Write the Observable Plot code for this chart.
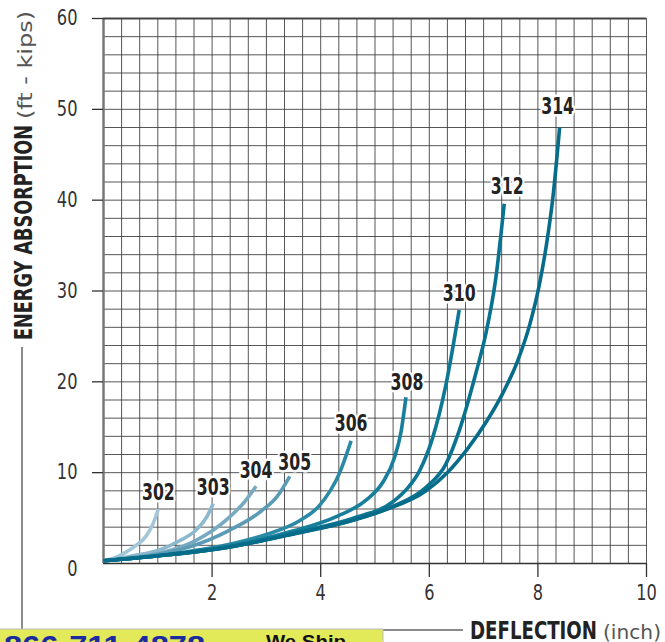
<!DOCTYPE html>
<html>
<head>
<meta charset="utf-8">
<script src="https://cdn.jsdelivr.net/npm/d3@7"></script>
<script src="https://cdn.jsdelivr.net/npm/@observablehq/plot@0.6"></script>
<style>
  html, body { margin: 0; padding: 0; background: white; overflow: hidden; }
  #chart { width: 665px; height: 642px; position: relative; }
</style>
</head>
<body>
<div id="chart"></div>
<script>
// Curve names (model numbers)
const seriesNames = ["302", "303", "304", "305", "306", "308", "310", "312", "314"];
const seriesColors = ["#a3c7d8", "#8cb9cd", "#77aac1", "#5b9bb5", "#2a8aa5", "#177f9c", "#0d7794", "#097290", "#066c8a"];

// [deflection (inch), energy absorption (ft-kips)]
const c302 = [[0, 0.3], [0.2, 0.6], [0.4, 1.2], [0.6, 2.0], [0.77, 2.9], [0.9, 4.2], [1.01, 6.0]];
const c303 = [[0, 0.3], [0.5, 0.8], [1.08, 1.6], [1.4, 2.5], [1.69, 3.6], [1.9, 5.1], [2.02, 6.6]];
const c304 = [[0, 0.3], [0.6, 0.7], [1.08, 1.2], [1.69, 2.5], [2.3, 5.0], [2.6, 6.8], [2.81, 8.5]];
const c305 = [[0, 0.3], [0.8, 0.8], [1.57, 1.8], [2.3, 3.6], [2.91, 5.8], [3.2, 7.4], [3.43, 9.6]];
const c306 = [[0, 0.3], [1.1, 0.95], [2.3, 2.1], [3.0, 3.2], [3.61, 4.7], [3.98, 6.4], [4.35, 10.0], [4.56, 13.5]];
const c308 = [[0, 0.3], [1.1, 0.9], [2.3, 1.9], [3.5, 3.6], [4.3, 5.2], [4.84, 7.0], [5.15, 9.0], [5.35, 11.5], [5.48, 14.5], [5.57, 18.3]];
const c310 = [[0, 0.3], [1.1, 0.9], [2.3, 1.8], [3.6, 3.5], [4.6, 5.0], [5.33, 6.8], [5.6, 8.3], [5.82, 10.2], [6.06, 13.8], [6.30, 19.5], [6.55, 27.9]];
const c312 = [[0, 0.3], [1.1, 0.9], [2.3, 1.8], [3.6, 3.4], [4.6, 4.8], [5.33, 6.3], [5.94, 8.4], [6.31, 11.0], [6.55, 14.6], [6.86, 21.0], [7.03, 25.0], [7.22, 31.2], [7.38, 39.6]];
const c314 = [[0, 0.3], [1.1, 0.9], [2.3, 1.8], [3.61, 3.4], [4.5, 4.6], [5.14, 5.8], [5.94, 8.0], [6.33, 10.0], [6.7, 12.6], [7.05, 15.6], [7.35, 18.7], [7.62, 22.2], [7.85, 26.3], [8.02, 30.5], [8.16, 35.2], [8.28, 40.5], [8.40, 48.0]];
const curves = [c302, c303, c304, c305, c306, c308, c310, c312, c314];

// Axis ticks
const xTicks = [2, 4, 6, 8, 10];
const yTicks = [10, 20, 30, 40, 50, 60];
const yZero = [0];
const xGrid = d3.range(31).map(i => i / 3);
const yGrid = d3.range(0, 61, 2);

// Build tables
const rows = [];
const ends = [];
curves.forEach((c, k) => {
  c.forEach(([x, y]) => rows.push({name: seriesNames[k], x, y}));
  const last = c[c.length - 1];
  ends.push({name: seriesNames[k], x: last[0], y: last[1]});
});

// label offsets (layout only)
const labelOffset = {"302": [0, -16], "303": [0, -16], "304": [0, -16], "305": [5, -14], "306": [0, -17],
                     "308": [1, -15], "310": [0, -16], "312": [3, -17], "314": [-2, -21]};

const font = "'Liberation Sans Narrow', 'DejaVu Sans Condensed', 'DejaVu Sans', sans-serif";

const svg = Plot.plot({
  width: 665,
  height: 642,
  marginLeft: 103,
  marginRight: 19,
  marginTop: 18,
  marginBottom: 79,
  style: {fontFamily: font, background: "white", color: "#333"},
  x: {domain: [0, 10]},
  y: {domain: [0, 60]},
  color: {domain: seriesNames, range: seriesColors},
  marks: [
    Plot.gridX(xGrid, {stroke: "#3a3a3a", strokeOpacity: 0.85, strokeWidth: 1}),
    Plot.gridY(yGrid, {stroke: "#3a3a3a", strokeOpacity: 0.85, strokeWidth: 1}),
    Plot.ruleX([0], {stroke: "#777", strokeWidth: 2.5}),
    Plot.ruleY([0], {stroke: "#333", strokeWidth: 1.5}),
    Plot.ruleY([60], {stroke: "#444", strokeWidth: 2}),
    Plot.axisY(yTicks, {anchor: "left", tickSize: 11, tickPadding: 15, fontSize: 21, stroke: "#333", strokeWidth: 1.3, fill: "#333", label: null}),
    Plot.axisY(yZero, {anchor: "left", tickSize: 0, tickPadding: 26, dy: 6, fontSize: 21, fill: "#333", label: null}),
    Plot.axisX(xTicks, {anchor: "bottom", tickSize: 14, tickPadding: 8, fontSize: 21, stroke: "#333", strokeWidth: 1.3, fill: "#333", label: null}),
    Plot.line(rows, {x: "x", y: "y", z: "name", stroke: "name", strokeWidth: 3.6, curve: "monotone-x", strokeLinecap: "butt"}),
    ...ends.map(e => Plot.text([e], {x: "x", y: "y", text: "name", dx: labelOffset[e.name][0], dy: labelOffset[e.name][1],
      fontSize: 23, fontWeight: "bold", fill: "#222", stroke: "white", strokeWidth: 5, paintOrder: "stroke"}))
  ]
});

const s = d3.select(svg);
// Y title
const yt = s.append("text")
  .attr("transform", "translate(32,340) rotate(-90)")
  .attr("text-anchor", "start")
  .style("font-family", font);
yt.append("tspan").attr("x", 0).attr("font-weight", "bold").attr("font-size", 25).attr("fill", "#222")
  .attr("textLength", 215).attr("lengthAdjust", "spacingAndGlyphs").text("ENERGY ABSORPTION");
yt.append("tspan").attr("x", 221).attr("font-size", 20).attr("fill", "#555")
  .attr("textLength", 108).attr("lengthAdjust", "spacingAndGlyphs").text("(ft - kips)");

// connector line
s.append("path").attr("d", "M22,347V630H463").attr("fill", "none").attr("stroke", "#666").attr("stroke-width", 1.5);

// X title
const xt = s.append("text")
  .attr("y", 639)
  .attr("text-anchor", "start")
  .style("font-family", font);
xt.append("tspan").attr("x", 470).attr("font-weight", "bold").attr("font-size", 25).attr("fill", "#222")
  .attr("textLength", 127).attr("lengthAdjust", "spacingAndGlyphs").text("DEFLECTION");
xt.append("tspan").attr("x", 603).attr("font-size", 20).attr("fill", "#555")
  .attr("textLength", 58).attr("lengthAdjust", "spacingAndGlyphs").text("(inch)");

// banner at bottom-left
s.append("rect").attr("x", -1).attr("y", 629).attr("width", 384).attr("height", 14).attr("fill", "#e2ea5a").attr("stroke", "#bbb").attr("stroke-width", 1);
s.append("text").attr("x", 4).attr("y", 656).attr("text-anchor", "start").attr("font-size", 30).attr("font-weight", "bold").attr("fill", "#1b2a9e")
  .attr("textLength", 201).attr("lengthAdjust", "spacingAndGlyphs")
  .style("font-family", "'Liberation Sans', Arial, sans-serif").text("866-711-4878");
s.append("text").attr("x", 266).attr("y", 648).attr("text-anchor", "start").attr("font-size", 18).attr("font-weight", "bold").attr("fill", "#111")
  .attr("textLength", 80).attr("lengthAdjust", "spacingAndGlyphs")
  .style("font-family", "'Liberation Sans', Arial, sans-serif").text("We Ship");

document.getElementById("chart").appendChild(svg);

// condense the Plot texts horizontally to mimic a narrow typeface
function condense(nodes, k) {
  nodes.forEach(t => {
    const w = t.getComputedTextLength();
    if (w > 0) {
      t.setAttribute("textLength", (w * k).toFixed(1));
      t.setAttribute("lengthAdjust", "spacingAndGlyphs");
    }
  });
}
condense(svg.querySelectorAll('g[aria-label="text"] text'), 0.76);
condense(svg.querySelectorAll('g[aria-label$="tick label"] text'), 0.86);
</script>
</body>
</html>
